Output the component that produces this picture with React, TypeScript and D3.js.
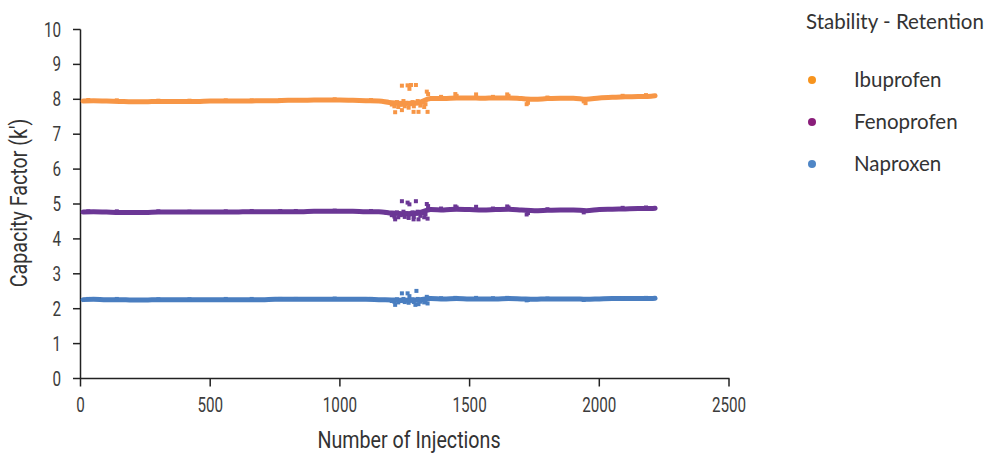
import React from "react";
import * as d3 from "d3";

const injections = [10, 50, 100, 150, 200, 250, 300, 350, 400, 450, 500, 550, 600, 650, 700, 750, 800, 850, 900, 950, 1000, 1050, 1100, 1150, 1200, 1250, 1300, 1350, 1400, 1450, 1500, 1550, 1600, 1650, 1700, 1750, 1800, 1850, 1900, 1950, 2000, 2050, 2100, 2150, 2200, 2215];

const ibuprofen = [7.95, 7.96, 7.95, 7.94, 7.93, 7.93, 7.94, 7.94, 7.94, 7.94, 7.95, 7.95, 7.95, 7.95, 7.96, 7.96, 7.97, 7.97, 7.98, 7.98, 7.98, 7.97, 7.96, 7.95, 7.9, 7.88, 7.9, 8.02, 8.02, 8.04, 8.04, 8.03, 8.04, 8.04, 8.02, 8.0, 8.02, 8.03, 8.03, 8.0, 8.04, 8.06, 8.07, 8.08, 8.09, 8.1];

const fenoprofen = [4.77, 4.78, 4.77, 4.76, 4.76, 4.76, 4.77, 4.77, 4.77, 4.77, 4.77, 4.77, 4.77, 4.78, 4.78, 4.78, 4.78, 4.78, 4.79, 4.79, 4.79, 4.79, 4.78, 4.78, 4.74, 4.72, 4.74, 4.84, 4.83, 4.85, 4.84, 4.83, 4.84, 4.85, 4.83, 4.81, 4.82, 4.83, 4.83, 4.81, 4.84, 4.85, 4.86, 4.87, 4.87, 4.88];

const naproxen = [2.26, 2.27, 2.26, 2.26, 2.25, 2.25, 2.26, 2.26, 2.26, 2.26, 2.26, 2.26, 2.26, 2.26, 2.26, 2.27, 2.27, 2.27, 2.27, 2.27, 2.27, 2.27, 2.27, 2.26, 2.25, 2.24, 2.25, 2.29, 2.28, 2.29, 2.28, 2.28, 2.28, 2.29, 2.28, 2.27, 2.28, 2.28, 2.28, 2.27, 2.28, 2.29, 2.29, 2.29, 2.29, 2.3];

// individual injections that stray from the main band
const scatterX = [30, 140, 300, 420, 560, 660, 770, 830, 980, 1120, 1180, 1200, 1210, 1220, 1225, 1235, 1245, 1250, 1255, 1265, 1270, 1280, 1285, 1295, 1300, 1310, 1320, 1325, 1330, 1335, 1340, 1390, 1445, 1450, 1525, 1590, 1645, 1650, 1720, 1725, 1800, 1940, 2090, 2180];
const ibuprofenScatter = [7.98, 7.97, 7.96, 7.96, 7.97, 7.97, 7.98, 7.98, 8.0, 7.98, 7.93, 7.85, 7.8, 7.92, 7.78, 7.84, 7.95, 7.8, 7.9, 7.76, 7.86, 7.92, 7.8, 7.88, 7.95, 7.82, 7.9, 7.78, 7.86, 8.22, 8.15, 8.07, 8.15, 8.1, 8.14, 8.07, 8.14, 8.1, 7.86, 7.9, 8.05, 7.94, 8.1, 8.12];
const fenoprofenScatter = [4.79, 4.79, 4.79, 4.78, 4.79, 4.8, 4.8, 4.8, 4.81, 4.8, 4.75, 4.68, 4.64, 4.76, 4.62, 4.68, 4.78, 4.63, 4.74, 4.6, 4.7, 4.76, 4.63, 4.72, 4.78, 4.66, 4.74, 4.62, 4.7, 5.0, 4.94, 4.87, 4.93, 4.9, 4.92, 4.87, 4.93, 4.9, 4.7, 4.74, 4.85, 4.76, 4.89, 4.9];
const naproxenScatter = [2.28, 2.28, 2.27, 2.27, 2.28, 2.28, 2.28, 2.28, 2.29, 2.28, 2.25, 2.22, 2.2, 2.27, 2.18, 2.22, 2.28, 2.19, 2.25, 2.17, 2.23, 2.27, 2.19, 2.24, 2.28, 2.2, 2.25, 2.18, 2.22, 2.34, 2.31, 2.3, 2.31, 2.3, 2.31, 2.3, 2.31, 2.3, 2.24, 2.25, 2.29, 2.25, 2.3, 2.31];

const ibuprofenOutlierX = [1213, 1239, 1284, 1303, 1338, 1239, 1261, 1268, 1274, 1293, 1947];
const ibuprofenOutlierY = [7.63, 7.69, 7.64, 7.64, 7.64, 8.39, 8.4, 8.3, 8.41, 8.41, 7.89];
const fenoprofenOutlierX = [1213, 1284, 1303, 1338, 1239, 1261, 1268, 1293];
const fenoprofenOutlierY = [4.56, 4.56, 4.56, 4.58, 5.08, 5.04, 4.99, 5.08];
const naproxenOutlierX = [1213, 1291, 1303, 1338, 1239, 1261, 1268, 1295];
const naproxenOutlierY = [2.11, 2.11, 2.13, 2.15, 2.44, 2.44, 2.36, 2.51];

const seriesNames = ["Ibuprofen", "Fenoprofen", "Naproxen"];
const xTicks = [0, 500, 1000, 1500, 2000, 2500];
const yTicks = [0, 1, 2, 3, 4, 5, 6, 7, 8, 9, 10];

const lineColors = ["#F79646", "#6B3795", "#4A7EC0"];
const dotColors = ["#F7941E", "#8A1E7A", "#4F86C6"];

const W = 984;
const H = 453;
const AX_FONT = "Roboto, 'Liberation Sans', sans-serif";
const LEG_FONT = "Lato, 'Open Sans', sans-serif";

function CondText(props: {
  x: number;
  y: number;
  rotate?: number;
  anchor: string;
  size: number;
  fill: string;
  dy?: string;
  sx?: number;
  children: React.ReactNode;
}) {
  const { x, y, rotate = 0, anchor, size, fill, dy, sx = 0.78, children } = props;
  return (
    <text
      transform={`translate(${x},${y}) rotate(${rotate}) scale(${sx},1)`}
      textAnchor={anchor}
      dy={dy}
      fontFamily={AX_FONT}
      fontSize={size}
      fill={fill}
    >
      {children}
    </text>
  );
}

export default function App() {
  const x = d3.scaleLinear().domain([0, 2500]).range([80.5, 729]);
  const y = d3.scaleLinear().domain([0, 10]).range([378.5, 29.5]);

  const series = [
    { name: seriesNames[0], values: ibuprofen, sc: ibuprofenScatter, ox: ibuprofenOutlierX, oy: ibuprofenOutlierY },
    { name: seriesNames[1], values: fenoprofen, sc: fenoprofenScatter, ox: fenoprofenOutlierX, oy: fenoprofenOutlierY },
    { name: seriesNames[2], values: naproxen, sc: naproxenScatter, ox: naproxenOutlierX, oy: naproxenOutlierY },
  ];

  const line = d3
    .line<number>()
    .x((_, i) => x(injections[i]))
    .y((d) => y(d))
    .curve(d3.curveMonotoneX);

  const sq = 4;

  return (
    <svg
      width={W}
      height={H}
      style={{ position: "absolute", left: 0, top: 0, background: "#fff" }}
    >
      {/* y axis */}
      <line x1={80.5} x2={80.5} y1={29.5} y2={379} stroke="#222" strokeWidth={1.5} />
      {yTicks.map((t) => (
        <g key={"y" + t}>
          <line x1={73} x2={80.5} y1={y(t)} y2={y(t)} stroke="#222" strokeWidth={1.5} />
          <CondText x={61} y={y(t)} dy="0.36em" anchor="end" size={19.5} fill="#3c3c3c">
            {t}
          </CondText>
        </g>
      ))}
      {/* x axis */}
      <line x1={80} x2={729.5} y1={378.5} y2={378.5} stroke="#222" strokeWidth={1.5} />
      {xTicks.map((t) => (
        <g key={"x" + t}>
          <line x1={x(t)} x2={x(t)} y1={378.5} y2={386.5} stroke="#222" strokeWidth={1.5} />
          <CondText x={x(t)} y={411.5} anchor="middle" size={19.5} fill="#3c3c3c">
            {t}
          </CondText>
        </g>
      ))}
      <CondText x={409} y={448} anchor="middle" size={24} sx={0.82} fill="#333">
        Number of Injections
      </CondText>
      <CondText x={27} y={203} rotate={-90} anchor="middle" size={24} sx={0.82} fill="#333">
        Capacity Factor (k')
      </CondText>

      {/* series */}
      {series.map((s, si) => (
        <g key={s.name}>
          <path
            d={line(s.values) || ""}
            fill="none"
            stroke={lineColors[si]}
            strokeWidth={5}
            strokeLinejoin="round"
            strokeLinecap="round"
          />
          {s.sc.map((v, i) => (
            <rect
              key={"s" + i}
              x={x(scatterX[i]) - sq / 2}
              y={y(v) - sq / 2}
              width={sq}
              height={sq}
              fill={lineColors[si]}
            />
          ))}
          {s.ox.map((ox, i) => (
            <rect
              key={"o" + i}
              x={x(ox) - sq / 2}
              y={y(s.oy[i]) - sq / 2}
              width={sq}
              height={sq}
              fill={lineColors[si]}
            />
          ))}
        </g>
      ))}

      {/* legend */}
      <text x={806} y={29} fontFamily={LEG_FONT} fontSize={20.5} fill="#333">
        Stability - Retention
      </text>
      {seriesNames.map((n, i) => (
        <g key={n}>
          <circle cx={812} cy={80 + i * 42} r={4} fill={dotColors[i]} />
          <text x={854} y={80 + i * 42} dy="0.35em" fontFamily={LEG_FONT} fontSize={20.5} fill="#333">
            {n}
          </text>
        </g>
      ))}
    </svg>
  );
}
